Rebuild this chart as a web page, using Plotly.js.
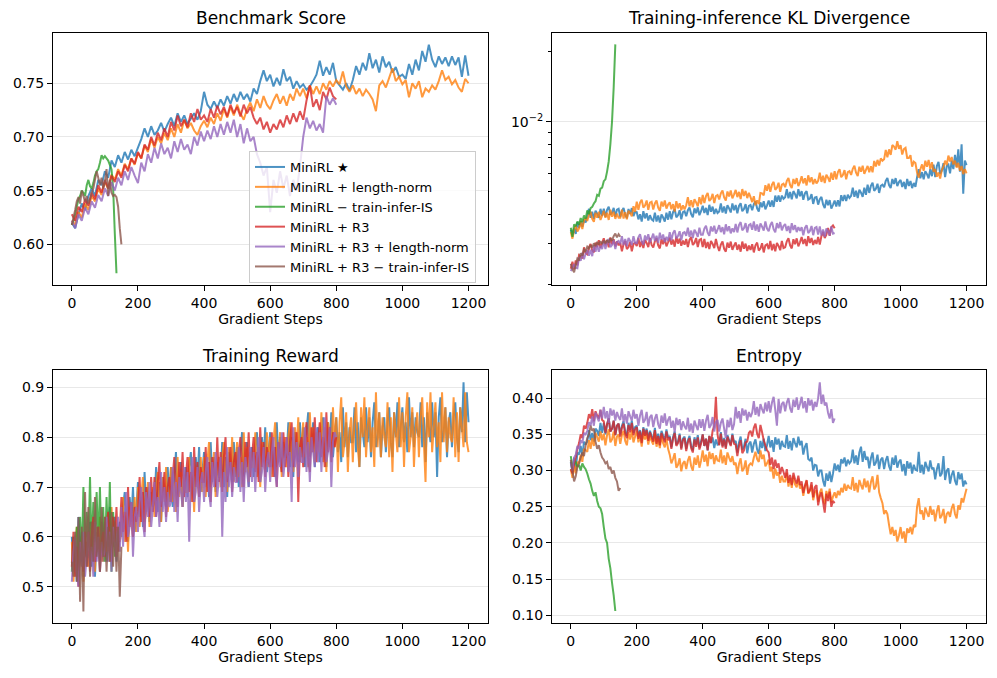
<!DOCTYPE html>
<html>
<head>
<meta charset="utf-8">
<script src="https://cdn.plot.ly/plotly-3.0.1.min.js"></script>
<style>html,body{margin:0;padding:0;background:#fff;}#chart{width:997px;height:678px;}</style>
</head>
<body>
<div id="chart"></div>
<script>
// ---------- series names / colours ----------
const seriesNames = ['MiniRL ★','MiniRL + length-norm','MiniRL − train-infer-IS','MiniRL + R3','MiniRL + R3 + length-norm','MiniRL + R3 − train-infer-IS'];
const seriesColors = ['rgba(31,119,180,0.8)','rgba(255,127,14,0.8)','rgba(44,160,44,0.8)','rgba(214,39,40,0.8)','rgba(148,103,189,0.8)','rgba(140,86,75,0.8)'];
// gradient steps between stored values, per panel and series
const benchStride = [10,10,5,10,10,5];
const denseStride = [5,5,5,5,5,5];
const xTickVals = [0,200,400,600,800,1000,1200];

// ---------- Benchmark Score ----------
const benchBlue = [.620,.615,.628,.638,.632,.645,.652,.645,.660,.655,
.668,.662,.678,.672,.683,.676,.686,.679,.688,.682,
.690,.698,.708,.700,.710,.702,.706,.713,.705,.712,
.718,.710,.722,.714,.720,.712,.717,.722,.716,.724,
.742,.730,.726,.733,.727,.735,.729,.738,.731,.740,
.733,.742,.735,.740,.733,.745,.740,.752,.762,.752,
.758,.747,.755,.748,.763,.752,.756,.745,.752,.746,
.749,.744,.747,.752,.758,.771,.757,.765,.758,.769,
.752,.748,.744,.750,.743,.753,.766,.758,.769,.762,
.778,.764,.772,.760,.775,.765,.770,.760,.765,.756,
.758,.754,.768,.758,.772,.762,.780,.770,.786,.772,
.765,.775,.768,.774,.766,.775,.767,.774,.756,.776,
.757];
const benchOrange = [.622,.618,.630,.625,.638,.632,.645,.640,.652,.646,
.658,.652,.665,.660,.670,.664,.675,.670,.680,.674,
.685,.680,.692,.686,.698,.690,.700,.694,.704,.697,
.708,.700,.712,.704,.716,.708,.713,.706,.702,.710,
.715,.709,.718,.712,.722,.715,.726,.718,.728,.720,
.730,.722,.716,.726,.732,.724,.735,.727,.738,.730,
.726,.734,.740,.731,.738,.729,.740,.734,.745,.738,
.745,.736,.748,.740,.747,.740,.750,.744,.752,.747,
.753,.749,.761,.747,.742,.748,.740,.745,.738,.744,
.740,.735,.724,.748,.752,.746,.755,.764,.752,.756,
.749,.753,.737,.750,.745,.752,.737,.745,.742,.748,
.744,.752,.762,.753,.756,.749,.753,.746,.742,.754,
.750];
const benchGreen = [.618,.622,.628,.635,.642,.645,.650,.648,.645,.655,.660,.654,.652,.657,.664,.668,.670,.676,.683,.680,.682,.680,.678,.674,.670,.652,.610,.573];
const benchRed = [.628,.622,.635,.630,.642,.636,.648,.642,.655,.648,
.660,.652,.664,.658,.668,.662,.674,.668,.680,.675,
.686,.680,.693,.688,.700,.692,.704,.697,.708,.700,
.714,.706,.720,.710,.716,.709,.722,.714,.726,.716,
.720,.714,.726,.718,.729,.721,.728,.719,.730,.722,
.728,.719,.730,.722,.728,.718,.712,.718,.707,.714,
.704,.712,.707,.716,.709,.720,.712,.722,.714,.724,
.716,.734,.748,.728,.735,.725,.742,.735,.746,.738,
.735];
const benchPurple = [.622,.615,.628,.622,.634,.628,.640,.634,.646,.640,
.652,.645,.658,.650,.662,.655,.668,.660,.672,.664,
.657,.676,.668,.684,.676,.690,.680,.694,.684,.690,
.680,.696,.686,.698,.688,.693,.684,.700,.692,.705,
.696,.706,.698,.710,.700,.712,.702,.714,.704,.716,
.700,.712,.694,.708,.696,.700,.684,.676,.664,.672,
.630,.660,.648,.668,.652,.664,.645,.660,.650,.672,
.700,.718,.708,.715,.706,.712,.704,.738,.730,.736,
.730];
const benchBrown = [.618,.625,.632,.640,.644,.638,.650,.645,.640,.645,.638,.642,.648,.652,.660,.668,.662,.655,.662,.652,.658,.670,.645,.660,.648,.645,.646,.644,.635,.615,.600];

// ---------- Training-inference KL Divergence (every 5 steps) ----------
const klBlue = [.00343,.00325,.00347,.00329,.00370,.00350,.00373,.00353,.00378,.00369,
.00390,.00422,.00386,.00410,.00382,.00414,.00402,.00386,.00422,.00394,
.00422,.00390,.00418,.00431,.00398,.00406,.00426,.00390,.00418,.00422,
.00389,.00413,.00425,.00397,.00385,.00421,.00401,.00425,.00393,.00409,
.00408,.00380,.00400,.00372,.00412,.00384,.00404,.00376,.00396,.00380,
.00375,.00406,.00372,.00395,.00368,.00399,.00387,.00372,.00406,.00379,
.00412,.00380,.00408,.00420,.00388,.00396,.00416,.00380,.00408,.00412,
.00392,.00416,.00428,.00400,.00388,.00424,.00404,.00428,.00396,.00412,
.00435,.00405,.00426,.00397,.00439,.00410,.00431,.00401,.00422,.00405,
.00411,.00445,.00407,.00432,.00403,.00437,.00424,.00407,.00445,.00416,
.00438,.00404,.00434,.00446,.00412,.00421,.00442,.00404,.00434,.00438,
.00416,.00442,.00455,.00424,.00411,.00450,.00429,.00455,.00420,.00437,
.00458,.00431,.00458,.00430,.00481,.00453,.00481,.00452,.00481,.00466,
.00473,.00512,.00468,.00498,.00464,.00503,.00488,.00468,.00512,.00478,
.00503,.00461,.00492,.00503,.00462,.00467,.00488,.00443,.00472,.00474,
.00440,.00464,.00475,.00441,.00425,.00462,.00437,.00460,.00423,.00439,
.00458,.00432,.00459,.00432,.00483,.00456,.00484,.00456,.00485,.00470,
.00480,.00520,.00475,.00505,.00470,.00510,.00495,.00475,.00520,.00485,
.00536,.00494,.00530,.00546,.00504,.00515,.00541,.00494,.00530,.00536,
.00523,.00556,.00572,.00534,.00518,.00567,.00540,.00572,.00529,.00550,
.00562,.00524,.00551,.00513,.00567,.00529,.00556,.00518,.00545,.00524,
.00577,.00625,.00571,.00607,.00565,.00613,.00595,.00571,.00625,.00583,
.00653,.00578,.00644,.00672,.00597,.00616,.00663,.00578,.00644,.00653,
.00600,.00680,.00625,.00720,.00640,.00760,.00610,.00800,.00490,.00680,
.00650];
const klOrange = [.00335,.00314,.00343,.00358,.00337,.00348,.00372,.00345,.00376,.00386,
.00374,.00398,.00410,.00382,.00371,.00406,.00386,.00410,.00378,.00394,
.00414,.00386,.00406,.00378,.00418,.00390,.00410,.00382,.00402,.00386,
.00386,.00418,.00383,.00408,.00380,.00414,.00405,.00392,.00433,.00410,
.00453,.00418,.00449,.00462,.00427,.00436,.00458,.00418,.00449,.00453,
.00419,.00445,.00458,.00427,.00414,.00453,.00432,.00458,.00423,.00440,
.00450,.00420,.00442,.00411,.00455,.00424,.00446,.00416,.00437,.00420,
.00437,.00473,.00432,.00459,.00428,.00464,.00450,.00432,.00473,.00441,
.00484,.00447,.00479,.00494,.00456,.00465,.00489,.00447,.00479,.00484,
.00463,.00492,.00506,.00472,.00458,.00501,.00477,.00506,.00468,.00487,
.00509,.00474,.00499,.00465,.00513,.00479,.00504,.00469,.00494,.00474,
.00451,.00478,.00437,.00459,.00442,.00494,.00492,.00482,.00533,.00505,
.00541,.00499,.00536,.00551,.00509,.00520,.00546,.00499,.00536,.00541,
.00523,.00556,.00572,.00534,.00518,.00567,.00540,.00572,.00529,.00550,
.00582,.00543,.00571,.00532,.00588,.00549,.00577,.00538,.00566,.00543,
.00557,.00603,.00551,.00585,.00545,.00591,.00574,.00551,.00603,.00563,
.00613,.00565,.00607,.00625,.00577,.00589,.00619,.00565,.00607,.00613,
.00590,.00627,.00646,.00603,.00584,.00640,.00609,.00646,.00597,.00621,
.00645,.00606,.00643,.00606,.00678,.00642,.00685,.00648,.00695,.00679,
.00689,.00756,.00703,.00760,.00720,.00793,.00782,.00758,.00824,.00764,
.00793,.00722,.00763,.00772,.00698,.00698,.00718,.00641,.00673,.00664,
.00605,.00575,.00625,.00655,.00615,.00680,.00640,.00685,.00625,.00670,
.00610,.00625,.00580,.00605,.00570,.00620,.00640,.00680,.00650,.00715,
.00675,.00705,.00655,.00680,.00635,.00665,.00615,.00645,.00595,.00625,
.00600];
const klGreen = [.00350,.00320,.00362,.00355,.00372,.00360,.00385,.00370,.00395,.00382,.00415,.00400,.00425,.00430,.00445,.00455,.00485,.00480,.00515,.00520,.00555,.00565,.00610,.00675,.00800,.0100,.0140,.0215];
const klRed = [.00233,.00250,.00232,.00253,.00241,.00267,.00264,.00258,.00288,.00272,
.00269,.00288,.00298,.00280,.00274,.00302,.00289,.00309,.00287,.00301,
.00315,.00294,.00309,.00288,.00318,.00297,.00312,.00291,.00306,.00294,
.00301,.00277,.00298,.00307,.00283,.00289,.00304,.00277,.00298,.00301,
.00292,.00316,.00289,.00307,.00286,.00310,.00301,.00289,.00316,.00295,
.00288,.00306,.00315,.00294,.00285,.00312,.00297,.00315,.00291,.00303,
.00317,.00296,.00311,.00290,.00320,.00299,.00314,.00293,.00308,.00296,
.00313,.00289,.00310,.00319,.00295,.00301,.00316,.00289,.00310,.00313,
.00289,.00313,.00286,.00304,.00283,.00307,.00298,.00286,.00313,.00292,
.00278,.00296,.00305,.00284,.00276,.00302,.00287,.00305,.00281,.00293,
.00302,.00281,.00296,.00276,.00305,.00284,.00299,.00278,.00293,.00281,
.00297,.00274,.00294,.00302,.00279,.00285,.00300,.00274,.00294,.00297,
.00283,.00307,.00280,.00298,.00277,.00301,.00292,.00280,.00307,.00286,
.00288,.00306,.00315,.00294,.00285,.00312,.00297,.00315,.00291,.00303,
.00319,.00298,.00313,.00292,.00322,.00301,.00316,.00295,.00310,.00298,
.00319,.00296,.00322,.00336,.00316,.00327,.00349,.00323,.00352,.00358,
.00348];
const klPurple = [.00228,.00235,.00244,.00235,.00234,.00261,.00252,.00273,.00256,.00271,
.00281,.00265,.00281,.00264,.00294,.00276,.00294,.00276,.00293,.00283,
.00307,.00283,.00304,.00313,.00289,.00295,.00310,.00283,.00304,.00307,
.00298,.00322,.00295,.00313,.00292,.00316,.00307,.00295,.00322,.00301,
.00300,.00318,.00328,.00306,.00296,.00324,.00309,.00328,.00303,.00315,
.00330,.00307,.00323,.00301,.00333,.00311,.00327,.00304,.00320,.00307,
.00335,.00309,.00332,.00341,.00315,.00322,.00338,.00309,.00332,.00335,
.00323,.00350,.00320,.00340,.00316,.00343,.00333,.00320,.00350,.00326,
.00326,.00347,.00357,.00333,.00323,.00354,.00337,.00357,.00330,.00343,
.00359,.00335,.00352,.00328,.00362,.00338,.00355,.00331,.00348,.00335,
.00363,.00334,.00359,.00370,.00341,.00348,.00366,.00334,.00359,.00363,
.00343,.00372,.00340,.00361,.00336,.00365,.00354,.00340,.00372,.00347,
.00338,.00359,.00370,.00345,.00334,.00366,.00348,.00370,.00341,.00356,
.00363,.00339,.00356,.00332,.00366,.00342,.00359,.00335,.00352,.00339,
.00352,.00325,.00349,.00359,.00332,.00339,.00356,.00325,.00349,.00352,
.00327,.00354,.00324,.00344,.00320,.00347,.00337,.00324,.00354,.00330,
.00332];
const klBrown = [.00245,.00232,.00225,.00242,.00258,.00255,.00272,.00265,.00282,.00278,.00290,.00285,.00295,.00288,.00300,.00292,.00304,.00296,.00306,.00298,.00308,.00300,.00310,.00302,.00315,.00308,.00322,.00330,.00318,.00328,.00320];
const klTickVals = [0.01];
const klTickText = ['10<sup>−2</sup>'];
const klMinorVals = [0.002,0.003,0.004,0.005,0.006,0.007,0.008,0.009,0.02];

// ---------- Training Reward (every 5 steps) ----------
const rewBlue = [.60,.53,.58,.51,.64,.55,.61,.52,.59,.56,
.56,.63,.54,.60,.52,.61,.58,.55,.63,.56,
.63,.55,.62,.66,.57,.59,.64,.55,.61,.63,
.60,.66,.69,.62,.59,.68,.63,.70,.61,.65,
.71,.64,.68,.62,.73,.65,.70,.63,.69,.66,
.67,.74,.65,.71,.63,.72,.69,.66,.74,.67,
.74,.66,.72,.77,.68,.70,.75,.66,.71,.74,
.68,.74,.77,.70,.67,.76,.71,.78,.69,.73,
.77,.70,.74,.68,.79,.71,.76,.69,.75,.72,
.72,.79,.70,.76,.68,.77,.74,.71,.79,.72,
.78,.70,.77,.81,.72,.74,.79,.70,.76,.78,
.72,.78,.81,.74,.71,.80,.75,.82,.73,.77,
.81,.74,.78,.72,.83,.75,.80,.73,.79,.76,
.76,.83,.74,.80,.72,.81,.78,.75,.83,.76,
.82,.74,.81,.85,.76,.78,.83,.74,.80,.82,
.75,.81,.84,.77,.74,.83,.78,.85,.76,.80,
.84,.77,.81,.75,.86,.78,.83,.76,.82,.79,
.79,.86,.77,.83,.74,.84,.81,.78,.86,.79,
.84,.76,.83,.87,.78,.80,.85,.76,.82,.84,
.77,.83,.86,.79,.76,.85,.80,.87,.78,.82,
.86,.79,.83,.77,.88,.80,.85,.78,.84,.81,
.80,.87,.78,.84,.75,.85,.82,.79,.87,.80,
.85,.72,.84,.88,.79,.81,.86,.76,.83,.85,
.78,.84,.87,.80,.77,.86,.81,.91,.79,.89,
.83];
const rewOrange = [.59,.51,.58,.62,.53,.55,.60,.51,.57,.59,
.54,.60,.63,.56,.53,.62,.57,.64,.55,.59,
.64,.57,.61,.55,.66,.58,.63,.56,.62,.59,
.61,.68,.59,.65,.57,.66,.63,.60,.68,.61,
.70,.62,.68,.72,.63,.65,.71,.62,.67,.70,
.64,.70,.73,.66,.63,.72,.67,.74,.65,.69,
.74,.67,.71,.65,.76,.68,.73,.66,.72,.69,
.69,.76,.67,.73,.65,.74,.71,.68,.76,.69,
.76,.68,.75,.79,.70,.72,.77,.68,.74,.76,
.70,.76,.79,.72,.69,.78,.73,.80,.71,.75,
.79,.72,.76,.70,.81,.73,.78,.71,.77,.74,
.74,.81,.72,.78,.70,.79,.76,.73,.81,.74,
.80,.72,.79,.83,.74,.76,.81,.72,.78,.80,
.74,.80,.83,.76,.73,.82,.77,.84,.75,.79,
.83,.76,.80,.74,.85,.77,.82,.75,.81,.78,
.77,.85,.75,.82,.73,.83,.80,.76,.86,.78,
.84,.73,.83,.88,.76,.79,.85,.73,.81,.84,
.75,.83,.87,.78,.74,.86,.80,.88,.76,.82,
.86,.77,.82,.74,.89,.78,.85,.76,.84,.80,
.78,.87,.76,.84,.73,.85,.81,.77,.88,.78,
.85,.74,.84,.89,.77,.80,.86,.74,.82,.85,
.76,.84,.88,.79,.71,.87,.80,.89,.77,.82,
.87,.78,.83,.75,.89,.79,.86,.77,.84,.80,
.79,.88,.76,.85,.75,.86,.82,.78,.89,.79,
.77];
const rewGreen = [.53,.60,.55,.62,.52,.64,.55,.70,.56,.65,.58,.72,.57,.67,.59,.69,.58,.70,.57,.66,.55,.68,.58,.71,.53,.65,.56,.62,.58];
const rewRed = [.54,.61,.52,.58,.50,.59,.56,.53,.61,.54,
.61,.53,.60,.64,.55,.57,.62,.53,.59,.61,
.56,.62,.65,.58,.55,.64,.59,.66,.57,.61,
.68,.61,.65,.59,.70,.62,.67,.60,.66,.63,
.65,.72,.63,.69,.61,.70,.67,.64,.72,.65,
.72,.64,.71,.75,.66,.68,.73,.64,.70,.72,
.67,.72,.76,.69,.66,.75,.70,.77,.68,.72,
.76,.69,.73,.67,.78,.70,.75,.68,.74,.71,
.71,.78,.69,.75,.67,.76,.73,.70,.80,.71,
.77,.69,.76,.80,.71,.73,.78,.69,.75,.77,
.71,.77,.80,.73,.70,.79,.74,.81,.72,.76,
.80,.73,.77,.71,.82,.74,.79,.72,.78,.75,
.74,.81,.72,.78,.70,.79,.76,.73,.81,.74,
.80,.72,.79,.83,.74,.76,.81,.67,.78,.80,
.74,.80,.83,.76,.73,.82,.77,.84,.75,.79,
.83,.76,.80,.74,.85,.77,.82,.75,.81,.78,
.80];
const rewPurple = [.51,.57,.60,.53,.50,.59,.54,.61,.52,.56,
.61,.54,.58,.52,.63,.55,.60,.53,.59,.56,
.57,.64,.55,.61,.53,.62,.59,.56,.64,.57,
.66,.58,.65,.69,.60,.62,.67,.56,.64,.66,
.61,.67,.70,.63,.60,.69,.64,.71,.62,.66,
.71,.64,.68,.62,.73,.65,.70,.63,.69,.66,
.67,.74,.65,.71,.63,.72,.69,.66,.74,.67,
.73,.59,.72,.76,.67,.69,.74,.65,.71,.73,
.67,.73,.76,.69,.66,.75,.70,.77,.68,.72,
.76,.60,.73,.67,.78,.70,.75,.68,.74,.71,
.71,.78,.69,.75,.67,.76,.73,.70,.78,.71,
.77,.69,.76,.80,.71,.73,.78,.69,.75,.77,
.71,.77,.80,.73,.70,.79,.74,.81,.72,.76,
.80,.73,.77,.67,.82,.74,.79,.72,.78,.75,
.75,.82,.73,.79,.71,.80,.77,.74,.82,.75,
.81,.73,.80,.84,.75,.77,.82,.70,.79,.81,
.80];
const rewBrown = [.55,.52,.61,.51,.64,.47,.62,.45,.69,.54,.66,.52,.63,.55,.68,.56,.62,.53,.66,.55,.64,.53,.62,.55,.65,.54,.63,.53,.62,.48,.58];

// ---------- Entropy (every 5 steps) ----------
const entBlue = [.312,.298,.318,.300,.325,.322,.334,.320,.340,.336,
.340,.356,.342,.352,.340,.358,.355,.348,.366,.352,
.366,.350,.364,.372,.354,.358,.369,.349,.362,.365,
.350,.362,.368,.354,.348,.366,.356,.369,.352,.360,
.362,.346,.356,.340,.360,.350,.358,.343,.355,.348,
.343,.359,.340,.351,.338,.355,.348,.342,.357,.345,
.348,.332,.346,.354,.336,.340,.351,.331,.344,.347,
.330,.342,.348,.334,.328,.346,.336,.349,.332,.340,
.350,.334,.344,.328,.348,.338,.346,.331,.343,.336,
.337,.353,.334,.345,.332,.349,.342,.336,.351,.339,
.341,.325,.339,.347,.329,.333,.344,.324,.337,.340,
.325,.337,.343,.329,.323,.341,.331,.344,.327,.335,
.348,.332,.342,.326,.346,.336,.344,.329,.341,.334,
.333,.349,.330,.341,.328,.345,.338,.332,.347,.335,
.341,.322,.333,.338,.316,.314,.318,.300,.308,.307,
.292,.300,.300,.286,.278,.296,.286,.299,.284,.296,
.310,.300,.308,.298,.316,.310,.318,.306,.315,.310,
.313,.329,.310,.321,.308,.325,.333,.312,.327,.315,
.319,.303,.317,.325,.307,.311,.322,.302,.315,.318,
.302,.314,.320,.306,.300,.318,.308,.321,.304,.312,
.315,.299,.309,.293,.313,.303,.311,.296,.308,.301,
.300,.326,.297,.308,.295,.312,.305,.299,.314,.302,
.304,.288,.302,.310,.292,.296,.320,.287,.300,.303,
.282,.294,.300,.286,.280,.298,.288,.296,.278,.286,
.281];
const entOrange = [.302,.290,.308,.296,.312,.310,.322,.312,.330,.328,
.326,.342,.330,.345,.334,.352,.346,.340,.354,.342,
.351,.335,.349,.357,.339,.343,.354,.334,.347,.350,
.337,.349,.355,.341,.335,.353,.343,.356,.339,.347,
.355,.339,.349,.333,.353,.343,.351,.336,.348,.341,
.336,.352,.333,.344,.331,.348,.338,.332,.344,.330,
.322,.310,.316,.324,.304,.308,.317,.299,.310,.313,
.302,.314,.320,.306,.300,.318,.308,.321,.304,.314,
.328,.312,.322,.306,.326,.316,.324,.309,.321,.314,
.313,.329,.310,.321,.308,.325,.318,.312,.320,.308,
.311,.295,.309,.317,.299,.303,.314,.294,.307,.310,
.308,.318,.326,.316,.312,.328,.316,.322,.306,.310,
.315,.299,.305,.289,.303,.293,.298,.283,.293,.285,
.285,.297,.278,.290,.276,.293,.281,.277,.289,.275,
.281,.265,.278,.286,.268,.272,.280,.259,.270,.273,
.257,.269,.275,.261,.254,.272,.262,.275,.256,.264,
.270,.262,.272,.266,.276,.270,.282,.272,.280,.276,
.275,.291,.272,.283,.270,.287,.280,.274,.289,.277,
.286,.270,.284,.292,.274,.278,.294,.270,.262,.255,
.240,.245,.240,.225,.212,.222,.210,.218,.202,.210,
.222,.206,.216,.200,.220,.214,.222,.212,.225,.222,
.250,.262,.240,.245,.232,.249,.242,.236,.251,.239,
.246,.230,.244,.252,.234,.238,.247,.227,.240,.243,
.236,.248,.254,.240,.234,.252,.246,.262,.256,.266,
.275];
const entGreen = [.320,.305,.310,.312,.305,.308,.300,.310,.305,.302,.296,.288,.282,.272,.265,.270,.258,.250,.248,.240,.222,.206,.200,.178,.165,.145,.128,.106];
const entRed = [.302,.296,.310,.318,.330,.338,.350,.345,.362,.358,
.366,.378,.372,.385,.368,.382,.376,.372,.384,.370,
.368,.352,.364,.372,.354,.358,.369,.349,.362,.365,
.347,.359,.365,.351,.345,.363,.353,.366,.349,.357,
.360,.344,.354,.338,.358,.348,.356,.341,.353,.346,
.340,.356,.337,.348,.335,.352,.345,.339,.354,.342,
.346,.330,.344,.352,.334,.338,.349,.329,.342,.345,
.327,.339,.345,.331,.325,.343,.333,.346,.329,.337,
.350,.334,.344,.328,.348,.338,.355,.362,.402,.350,
.335,.351,.332,.343,.330,.347,.340,.334,.349,.337,
.336,.320,.334,.342,.324,.328,.339,.340,.352,.355,
.347,.359,.365,.351,.345,.363,.353,.342,.335,.328,
.325,.308,.318,.302,.315,.304,.310,.295,.305,.298,
.290,.302,.283,.294,.280,.297,.288,.282,.293,.280,
.285,.269,.279,.287,.269,.273,.284,.263,.277,.280,
.252,.264,.270,.256,.242,.268,.258,.271,.250,.258,
.255];
const entPurple = [.310,.300,.318,.322,.334,.330,.342,.338,.352,.350,
.355,.367,.362,.375,.362,.380,.374,.368,.384,.372,
.388,.372,.382,.366,.386,.376,.384,.369,.381,.374,
.370,.386,.367,.378,.365,.382,.375,.369,.384,.372,
.378,.362,.376,.384,.366,.370,.381,.361,.374,.377,
.360,.372,.378,.364,.358,.376,.366,.379,.362,.370,
.375,.359,.369,.353,.373,.363,.371,.356,.368,.361,
.357,.373,.354,.365,.352,.369,.362,.356,.371,.359,
.371,.355,.369,.377,.359,.363,.374,.354,.367,.370,
.354,.366,.372,.358,.345,.370,.360,.373,.356,.364,
.388,.372,.382,.366,.386,.376,.384,.369,.381,.374,
.380,.396,.377,.388,.375,.392,.385,.379,.394,.382,
.396,.380,.394,.402,.384,.362,.399,.379,.392,.395,
.382,.394,.400,.386,.380,.398,.388,.401,.384,.392,
.402,.386,.396,.380,.400,.390,.398,.383,.395,.388,
.400,.422,.392,.405,.390,.394,.380,.372,.385,.366,
.372];
const entBrown = [.315,.300,.285,.292,.305,.310,.318,.325,.320,.335,.345,.350,.362,.355,.358,.340,.330,.335,.325,.318,.315,.310,.312,.302,.305,.296,.300,.290,.285,.272,.276];

// ---------- build ----------
const F = 'DejaVu Sans';
const panels = [
  {xa:'x',  ya:'y',  title:'Benchmark Score', stride:benchStride, data:[benchBlue,benchOrange,benchGreen,benchRed,benchPurple,benchBrown], legend:true},
  {xa:'x2', ya:'y2', title:'Training-inference KL Divergence', stride:denseStride, data:[klBlue,klOrange,klGreen,klRed,klPurple,klBrown], legend:false},
  {xa:'x3', ya:'y3', title:'Training Reward', stride:denseStride, data:[rewBlue,rewOrange,rewGreen,rewRed,rewPurple,rewBrown], legend:false},
  {xa:'x4', ya:'y4', title:'Entropy', stride:denseStride, data:[entBlue,entOrange,entGreen,entRed,entPurple,entBrown], legend:false}
];
const traces = [];
panels.forEach(p => {
  p.data.forEach((vals, k) => {
    traces.push({
      type:'scatter', mode:'lines',
      x: vals.map((_, i) => i * p.stride[k]),
      y: vals,
      xaxis:p.xa, yaxis:p.ya,
      name: seriesNames[k],
      showlegend: p.legend,
      line:{color:seriesColors[k], width:2, simplify:false},
      hoverinfo:'skip'
    });
  });
});

const axisBase = {showline:true, mirror:true, linecolor:'#000', linewidth:1, ticks:'outside', ticklen:5, tickwidth:1, tickcolor:'#000', zeroline:false, tickfont:{family:F, size:14, color:'#000'}};
const xDomL = [53/997, 488/997], xDomR = [552/997, 986/997];
const yDomT = [(678-285)/678, (678-33)/678], yDomB = [(678-622.7)/678, (678-370)/678];
function xAxis(dom, anchor){
  return Object.assign({}, axisBase, {domain:dom, anchor:anchor, range:[-57,1259], tickmode:'array', tickvals:xTickVals, showgrid:false,
    title:{text:'Gradient Steps', font:{family:F, size:14, color:'#000'}, standoff:4}});
}
const gridC = '#e8e8e8';
const layout = {
  width:997, height:678, margin:{l:0,r:0,t:0,b:0}, paper_bgcolor:'#fff', plot_bgcolor:'#fff',
  font:{family:F, color:'#000'},
  xaxis: xAxis(xDomL,'y'),
  xaxis2: xAxis(xDomR,'y2'),
  xaxis3: xAxis(xDomL,'y3'),
  xaxis4: xAxis(xDomR,'y4'),
  yaxis: Object.assign({}, axisBase, {domain:yDomT, anchor:'x', range:[0.5621,0.7968], tickmode:'array', tickvals:[0.60,0.65,0.70,0.75], tickformat:'.2f', showgrid:true, gridcolor:gridC, gridwidth:1}),
  yaxis2: Object.assign({}, axisBase, {domain:yDomT, anchor:'x2', type:'log', range:[-2.7024,-1.6185], tickmode:'array', tickvals:klTickVals, ticktext:klTickText, showgrid:true, gridcolor:gridC, gridwidth:1,
    minor:{tickmode:'array', tickvals:klMinorVals, ticks:'outside', ticklen:3, tickwidth:1, tickcolor:'#000', showgrid:false}}),
  yaxis3: Object.assign({}, axisBase, {domain:yDomB, anchor:'x3', range:[0.4277,0.9348], tickmode:'array', tickvals:[0.5,0.6,0.7,0.8,0.9], tickformat:'.1f', showgrid:true, gridcolor:gridC, gridwidth:1}),
  yaxis4: Object.assign({}, axisBase, {domain:yDomB, anchor:'x4', range:[0.0898,0.439], tickmode:'array', tickvals:[0.10,0.15,0.20,0.25,0.30,0.35,0.40], tickformat:'.2f', showgrid:true, gridcolor:gridC, gridwidth:1}),
  legend:{x:249/997, y:(678-151)/678, xanchor:'left', yanchor:'top', bgcolor:'rgba(255,255,255,0.8)', bordercolor:'#cccccc', borderwidth:1, font:{family:F, size:13, color:'#000'}},
  annotations: panels.map((p, i) => {
    const dom = (i % 2 === 0) ? xDomL : xDomR;
    return {text:p.title, xref:'paper', yref:'paper', x:(dom[0]+dom[1])/2, y: i < 2 ? (678-18.3)/678 : (678-356)/678,
      xanchor:'center', yanchor:'middle', showarrow:false, font:{family:F, size:17, color:'#000'}};
  })
};
Plotly.newPlot('chart', traces, layout, {displayModeBar:false, staticPlot:true});
</script>
</body>
</html>
